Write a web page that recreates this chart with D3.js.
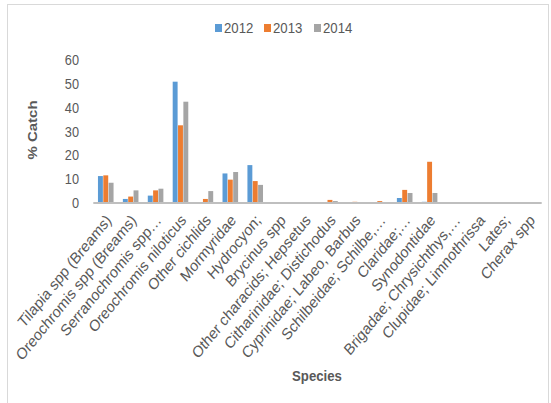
<!DOCTYPE html>
<html>
<head>
<meta charset="utf-8">
<script src="https://cdn.jsdelivr.net/npm/d3@7/dist/d3.min.js"></script>
<style>
  html, body { margin: 0; padding: 0; background: #fff; }
  svg { display: block; }
  text { font-family: "Liberation Sans", Arial, sans-serif; fill: #595959; }
</style>
</head>
<body>
<svg id="chart" width="551" height="403"></svg>
<script>
// ---- data ----
const categories = [
  "Tilapia spp (Breams)",
  "Oreochromis spp (Breams)",
  "Serranochromis spp…",
  "Oreochromis niloticus",
  "Other cichlids",
  "Mormyridae",
  "Hydrocyon;",
  "Brycinus spp",
  "Other characids; Hepsetus",
  "Citharinidae; Distichodus",
  "Cyprinidae; Labeo, Barbus",
  "Schilbeidae; Schilbe,…",
  "Claridae;…",
  "Synodontidae",
  "Brigadae; Chrysichthys,…",
  "Clupidae; Limnothrissa",
  "Lates;",
  "Cherax spp"
];
const seriesNames = ["2012", "2013", "2014"];
const values2012 = [11.3, 1.7, 3.1, 50.9, 0, 12.4, 15.9, 0, 0, 0, 0, 0, 2.1, 0.5, 0, 0, 0, 0];
const values2013 = [11.6, 2.7, 5.3, 32.6, 1.7, 9.8, 9.2, 0, 0, 1.3, 0.5, 0.8, 5.5, 17.3, 0, 0, 0, 0];
const values2014 = [8.5, 5.3, 6.0, 42.5, 5.0, 13.0, 7.6, 0, 0, 0.8, 0, 0, 4.2, 4.2, 0, 0, 0, 0];
const yTicks = [0, 10, 20, 30, 40, 50, 60];
const colors = ["#5b9bd5", "#ed7d31", "#a5a5a5"];

const seriesValues = [values2012, values2013, values2014];
const rows = categories.map((c, i) => ({
  cat: c,
  vals: seriesNames.map((s, j) => ({ key: s, value: seriesValues[j][i] }))
}));

// ---- layout (horizontally compressed like the reference) ----
const S = 0.88;                  // horizontal squeeze
const L = v => v / S;            // real x -> logical x
const svg = d3.select("#chart");

// outer border
svg.append("rect")
  .attr("x", 7.5).attr("y", 4.5)
  .attr("width", 541).attr("height", 402)
  .attr("fill", "none").attr("stroke", "#d9d9d9").attr("stroke-width", 1);

const g = svg.append("g").attr("transform", `scale(${S},1)`);

const x0 = d3.scaleBand()
  .domain(categories)
  .range([L(93.3), L(541.7)])
  .paddingInner(0.34)
  .paddingOuter(0.17);
const x1 = d3.scaleBand()
  .domain(seriesNames)
  .range([0, x0.bandwidth()])
  .padding(0.08);
const y = d3.scaleLinear().domain([0, 60]).range([203, 60]);

// bars
const grp = g.append("g").selectAll("g")
  .data(rows).join("g")
  .attr("transform", d => `translate(${x0(d.cat)},0)`);
grp.selectAll("rect")
  .data(d => d.vals).join("rect")
  .attr("x", d => x1(d.key))
  .attr("width", x1.bandwidth())
  .attr("y", d => y(d.value))
  .attr("height", d => y(0) - y(d.value))
  .attr("fill", (d, i) => colors[i]);

// y axis (labels only)
const yAxis = d3.axisLeft(y).tickValues(yTicks).tickSize(0).tickPadding(0);
const yG = g.append("g").attr("transform", `translate(${L(79)},0)`).call(yAxis);
yG.select(".domain").remove();
yG.selectAll("text")
  .style("font-family", '"Liberation Sans", Arial, sans-serif')
  .style("font-size", "14.5px").attr("fill", "#595959");

// x axis line
const xAxis = d3.axisBottom(x0).tickSize(0).tickFormat("");
const xG = g.append("g").attr("transform", `translate(0,${y(0)})`).call(xAxis);
xG.select(".domain")
  .attr("d", `M${L(93.3)},0H${L(541.7)}`)
  .attr("stroke", "#bfbfbf").attr("stroke-width", 1.8);

// x category labels
g.append("g").selectAll("text")
  .data(categories).join("text")
  .attr("transform", d => `translate(${x0(d) + x0.bandwidth() / 2 + L(6.5)},221) rotate(-47)`)
  .attr("text-anchor", "end")
  .style("font-size", "16px")
  .text(d => d);

// axis titles
g.append("text")
  .attr("transform", `translate(${L(36.5)},130) rotate(-90)`)
  .attr("text-anchor", "middle")
  .style("font-size", "15px").style("font-weight", "bold")
  .text("% Catch");
g.append("text")
  .attr("x", L(317)).attr("y", 381)
  .attr("text-anchor", "middle")
  .style("font-size", "15px").style("font-weight", "bold")
  .text("Species");

// legend
const legendX = [215, 264, 314];
const lg = g.append("g").selectAll("g")
  .data(seriesNames).join("g")
  .attr("transform", (d, i) => `translate(${L(legendX[i])},28)`);
lg.append("rect")
  .attr("x", 0).attr("y", -4).attr("width", L(7)).attr("height", 8)
  .attr("fill", (d, i) => colors[i]);
lg.append("text")
  .attr("x", L(9)).attr("y", 0).attr("dy", "0.35em")
  .style("font-size", "15px")
  .text(d => d);
</script>
</body>
</html>
